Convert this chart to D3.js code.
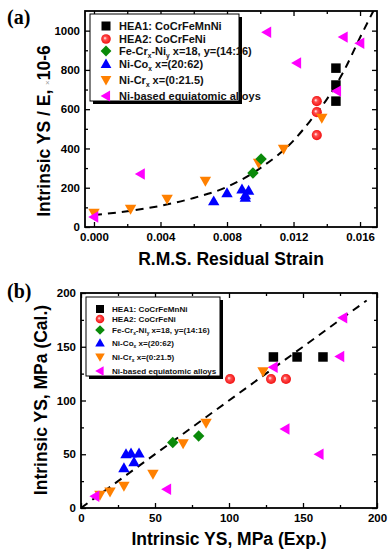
<!DOCTYPE html>
<html><head><meta charset="utf-8">
<script src="https://cdn.jsdelivr.net/npm/d3@7"></script>
<style>
html,body{margin:0;padding:0;background:#fff;}
svg{display:block;font-family:"Liberation Sans",Arial,sans-serif;}
</style></head><body>
<svg id="c" width="391" height="557"></svg>
<script>
// ---------- Panel (a) data ----------
const aHea1X = [0.01455, 0.01455, 0.01455];
const aHea1Y = [809, 723, 641];
const aHea2X = [0.0134, 0.0134, 0.0134];
const aHea2Y = [641, 585, 468];
const aFeCrNiX = [0.00956, 0.01005];
const aFeCrNiY = [275, 346];
const aNiCoX = [0.0072, 0.0080, 0.0089, 0.0093, 0.0091, 0.0091];
const aNiCoY = [132, 173, 193, 186, 163, 150];
const aNiCrX = [0.0000, 0.0022, 0.0044, 0.0067, 0.0099, 0.0114, 0.0137];
const aNiCrY = [71, 92, 142, 234, 326, 397, 555];
const aNiEqX = [0.0000, 0.0028, 0.0104, 0.0122, 0.0146, 0.0150, 0.0160];
const aNiEqY = [51, 270, 992, 835, 692, 967, 936];
const aFitX = [0, 0.002, 0.004, 0.006, 0.008, 0.010, 0.012, 0.013, 0.014, 0.015, 0.016, 0.0168];
const aFitY = [61, 80, 108, 148, 204, 300, 440, 540, 650, 790, 965, 1100];
const aXTicks = [0.000, 0.004, 0.008, 0.012, 0.016];
const aXMinor = [0.002, 0.006, 0.010, 0.014];
const aYTicks = [0, 200, 400, 600, 800, 1000];
const aYMinor = [100, 300, 500, 700, 900];

// ---------- Panel (b) data ----------
const bHea1X = [130, 146, 163.5];
const bHea1Y = [140.5, 140.5, 140.5];
const bHea2X = [100.7, 128.4, 138.5];
const bHea2Y = [120, 120, 120];
const bFeCrNiX = [62, 79.5];
const bFeCrNiY = [61, 67];
const bNiCoX = [30.4, 33.8, 39.2, 35.8, 29];
const bNiCoY = [50.2, 51, 51, 42.8, 37.2];
const bNiCrX = [12.8, 19.6, 29, 48.6, 69, 84.5, 123];
const bNiCrY = [12, 15, 20.5, 31.6, 60, 79, 127];
const bNiEqX = [9.5, 58, 130, 138, 161, 175, 177];
const bNiEqY = [11, 17.5, 131, 73.5, 50, 141, 177];
const bLineX = [0, 193];
const bLineY = [0, 193];
const bTicks = [0, 50, 100, 150, 200];
const bMinor = [25, 75, 125, 175];

const seriesNames = ["HEA1: CoCrFeMnNi", "HEA2: CoCrFeNi", "Fe-Cr", "Ni-Co", "Ni-Cr", "Ni-based equiatomic alloys"];

const svg = d3.select("#c");
const defs = svg.append("defs");
const rg = defs.append("radialGradient").attr("id","redball").attr("cx","0.5").attr("cy","0.5").attr("r","0.6").attr("fx","0.38").attr("fy","0.4");
rg.append("stop").attr("offset","0").attr("stop-color","#ffffff");
rg.append("stop").attr("offset","0.3").attr("stop-color","#ff5050");
rg.append("stop").attr("offset","1").attr("stop-color","#ee0000");

const COL = {black:"#000000", green:"#0a8a0a", blue:"#0000ff", orange:"#ff8000", magenta:"#ff00ff"};

function marker(g, type, cx, cy, s) {
  const h = s/2;
  if (type === "square") {
    g.append("rect").attr("x",cx-h).attr("y",cy-h).attr("width",s).attr("height",s).attr("fill",COL.black);
  } else if (type === "circle") {
    g.append("circle").attr("cx",cx).attr("cy",cy).attr("r",h+0.3).attr("fill","url(#redball)");
  } else if (type === "diamond") {
    const r = h*1.2;
    g.append("path").attr("d",`M${cx},${cy-r}L${cx+r},${cy}L${cx},${cy+r}L${cx-r},${cy}Z`).attr("fill",COL.green);
  } else if (type === "up") {
    const r = h*1.2;
    g.append("path").attr("d",`M${cx},${cy-r}L${cx+r},${cy+r*0.75}L${cx-r},${cy+r*0.75}Z`).attr("fill",COL.blue);
  } else if (type === "down") {
    const r = h*1.2;
    g.append("path").attr("d",`M${cx},${cy+r}L${cx+r},${cy-r*0.75}L${cx-r},${cy-r*0.75}Z`).attr("fill",COL.orange);
  } else if (type === "left") {
    const r = h*1.2;
    g.append("path").attr("d",`M${cx-r},${cy}L${cx+r*0.75},${cy-r}L${cx+r*0.75},${cy+r}Z`).attr("fill",COL.magenta);
  }
}

function drawPanel(o) {
  const {x, y} = o;
  const g = svg.append("g");
  const [x0, x1] = x.range(), [y0, y1] = y.range();
  const clipId = "clip" + o.id;
  defs.append("clipPath").attr("id", clipId).append("rect")
    .attr("x", x0).attr("y", y1).attr("width", x1-x0).attr("height", y0-y1);

  const axFont = (sel) => sel.selectAll("text").attr("font-size", 11.5).attr("font-weight","bold").attr("fill","#000");
  const clean = (sel) => { sel.select(".domain").remove(); sel.selectAll("line").attr("stroke","#000").attr("stroke-width",1.3); };
  g.append("g").attr("transform",`translate(0,${y0})`)
    .call(d3.axisBottom(x).tickValues(o.xTicks).tickSize(-5).tickPadding(6).tickFormat(o.xFmt))
    .call(clean).call(axFont);
  g.append("g").attr("transform",`translate(0,${y0})`)
    .call(d3.axisBottom(x).tickValues(o.xMinor).tickSize(-3).tickFormat(""))
    .call(clean);
  g.append("g").attr("transform",`translate(0,${y1})`)
    .call(d3.axisTop(x).tickValues(o.xTicks).tickSize(-5).tickFormat(""))
    .call(clean);
  g.append("g").attr("transform",`translate(0,${y1})`)
    .call(d3.axisTop(x).tickValues(o.xMinor).tickSize(-3).tickFormat(""))
    .call(clean);
  g.append("g").attr("transform",`translate(${x0},0)`)
    .call(d3.axisLeft(y).tickValues(o.yTicks).tickSize(-5).tickPadding(5).tickFormat(d3.format("d")))
    .call(clean).call(axFont);
  g.append("g").attr("transform",`translate(${x0},0)`)
    .call(d3.axisLeft(y).tickValues(o.yMinor).tickSize(-3).tickFormat(""))
    .call(clean);
  g.append("g").attr("transform",`translate(${x1},0)`)
    .call(d3.axisRight(y).tickValues(o.yTicks).tickSize(-5).tickFormat(""))
    .call(clean);
  g.append("g").attr("transform",`translate(${x1},0)`)
    .call(d3.axisRight(y).tickValues(o.yMinor).tickSize(-3).tickFormat(""))
    .call(clean);

  g.append("rect").attr("x",x0).attr("y",y1).attr("width",x1-x0).attr("height",y0-y1)
    .attr("fill","none").attr("stroke","#000").attr("stroke-width",1.8);

  const L = o.legend;
  g.append("rect").attr("x",L.x+3).attr("y",L.y+3).attr("width",L.w).attr("height",L.h).attr("fill","#000");
  g.append("rect").attr("x",L.x).attr("y",L.y).attr("width",L.w).attr("height",L.h).attr("fill","#fff").attr("stroke","#000").attr("stroke-width",1);
  const types = ["square","circle","diamond","up","down","left"];
  types.forEach((t,i) => {
    marker(g, t, L.mx, L.rows[i], L.ms);
    const tx = g.append("text").attr("x",L.tx).attr("y",L.rows[i]).attr("dy","0.35em")
      .attr("font-size",L.fs).attr("font-weight",L.fw).attr("fill","#111");
    if (i === 2) {
      tx.append("tspan").text("Fe-Cr");
      tx.append("tspan").attr("font-size",L.fs*0.6).attr("dy",L.fs*0.3).text("x");
      tx.append("tspan").attr("dy",-L.fs*0.3).text("-Ni");
      tx.append("tspan").attr("font-size",L.fs*0.6).attr("dy",L.fs*0.3).text("y");
      tx.append("tspan").attr("dy",-L.fs*0.3).text(" x=18, y=(14:16)");
    } else if (i === 3) {
      tx.append("tspan").text("Ni-Co");
      tx.append("tspan").attr("font-size",L.fs*0.6).attr("dy",L.fs*0.3).text("x");
      tx.append("tspan").attr("dy",-L.fs*0.3).text(" x=(20:62)");
    } else if (i === 4) {
      tx.append("tspan").text("Ni-Cr");
      tx.append("tspan").attr("font-size",L.fs*0.6).attr("dy",L.fs*0.3).text("x");
      tx.append("tspan").attr("dy",-L.fs*0.3).text(" x=(0:21.5)");
    } else {
      tx.text(seriesNames[i]);
    }
  });

  const line = d3.line().x(d => x(d[0])).y(d => y(d[1])).curve(o.curve);
  g.append("path").attr("clip-path",`url(#${clipId})`)
    .attr("d", line(d3.zip(o.fitX, o.fitY)))
    .attr("fill","none").attr("stroke","#000").attr("stroke-width",2).attr("stroke-dasharray","8,6");

  const mg = g.append("g");
  o.series.forEach(s => {
    s.xs.forEach((xv,i) => marker(mg, s.type, x(xv), y(s.ys[i]), o.ms));
  });

  g.append("text").attr("x",7).attr("y",o.labY).attr("font-family","'Liberation Serif','Times New Roman',serif")
    .attr("font-weight","bold").attr("font-size",20).text(o.label);

  g.append("text").attr("x",o.xtX).attr("y",o.xtY).attr("text-anchor","middle")
    .attr("font-size",17.5).attr("font-weight","bold").text(o.xTitle);
  const yt = g.append("text").attr("transform",`translate(${o.ytX},${o.ytY}) rotate(-90)`)
    .attr("text-anchor","middle").attr("font-size",17.5).attr("font-weight","bold");
  o.yTitle(yt);
}

drawPanel({
  id:"a",
  x: d3.scaleLinear().domain([-0.00054, 0.01702]).range([85, 377]),
  y: d3.scaleLinear().domain([0, 1100]).range([227, 11]),
  xTicks: aXTicks, xMinor: aXMinor, yTicks: aYTicks, yMinor: aYMinor,
  xFmt: d3.format(".3f"),
  fitX: aFitX, fitY: aFitY, curve: d3.curveMonotoneX,
  ms: 9.5,
  series: [
    {type:"square", xs:aHea1X, ys:aHea1Y},
    {type:"circle", xs:aHea2X, ys:aHea2Y},
    {type:"down", xs:aNiCrX, ys:aNiCrY},
    {type:"up", xs:aNiCoX, ys:aNiCoY},
    {type:"diamond", xs:aFeCrNiX, ys:aFeCrNiY},
    {type:"left", xs:aNiEqX, ys:aNiEqY}
  ],
  legend: {x:90, y:14, w:149, h:87, mx:106, tx:119, rows:[26,39,51,64,80,96], ms:9, fs:11, fw:"bold"},
  label:"(a)", labY:24,
  xTitle:"R.M.S. Residual Strain", xtX:231, xtY:265,
  ytX:50, ytY:131,
  yTitle: (t) => {
    t.append("tspan").text("Intrinsic YS / E, ");
    t.append("tspan").attr("font-size",8).attr("fill","#999").attr("font-weight","normal").text("×");
    t.append("tspan").text("10-6");
  }
});

drawPanel({
  id:"b",
  x: d3.scaleLinear().domain([0, 200]).range([81, 377]),
  y: d3.scaleLinear().domain([0, 200]).range([508, 293]),
  xTicks: bTicks, xMinor: bMinor, yTicks: bTicks, yMinor: bMinor,
  xFmt: d3.format("d"),
  fitX: bLineX, fitY: bLineY, curve: d3.curveLinear,
  ms: 9.5,
  series: [
    {type:"square", xs:bHea1X, ys:bHea1Y},
    {type:"circle", xs:bHea2X, ys:bHea2Y},
    {type:"down", xs:bNiCrX, ys:bNiCrY},
    {type:"up", xs:bNiCoX, ys:bNiCoY},
    {type:"diamond", xs:bFeCrNiX, ys:bFeCrNiY},
    {type:"left", xs:bNiEqX, ys:bNiEqY}
  ],
  legend: {x:86, y:297, w:134, h:79, mx:100, tx:112, rows:[309,319,330,343,357,371], ms:8, fs:8.1, fw:"bold"},
  label:"(b)", labY:298,
  xTitle:"Intrinsic YS, MPa (Exp.)", xtX:229, xtY:545,
  ytX:47, ytY:400,
  yTitle: (t) => { t.text("Intrinsic YS, MPa (Cal.)"); }
});
</script>
</body></html>
